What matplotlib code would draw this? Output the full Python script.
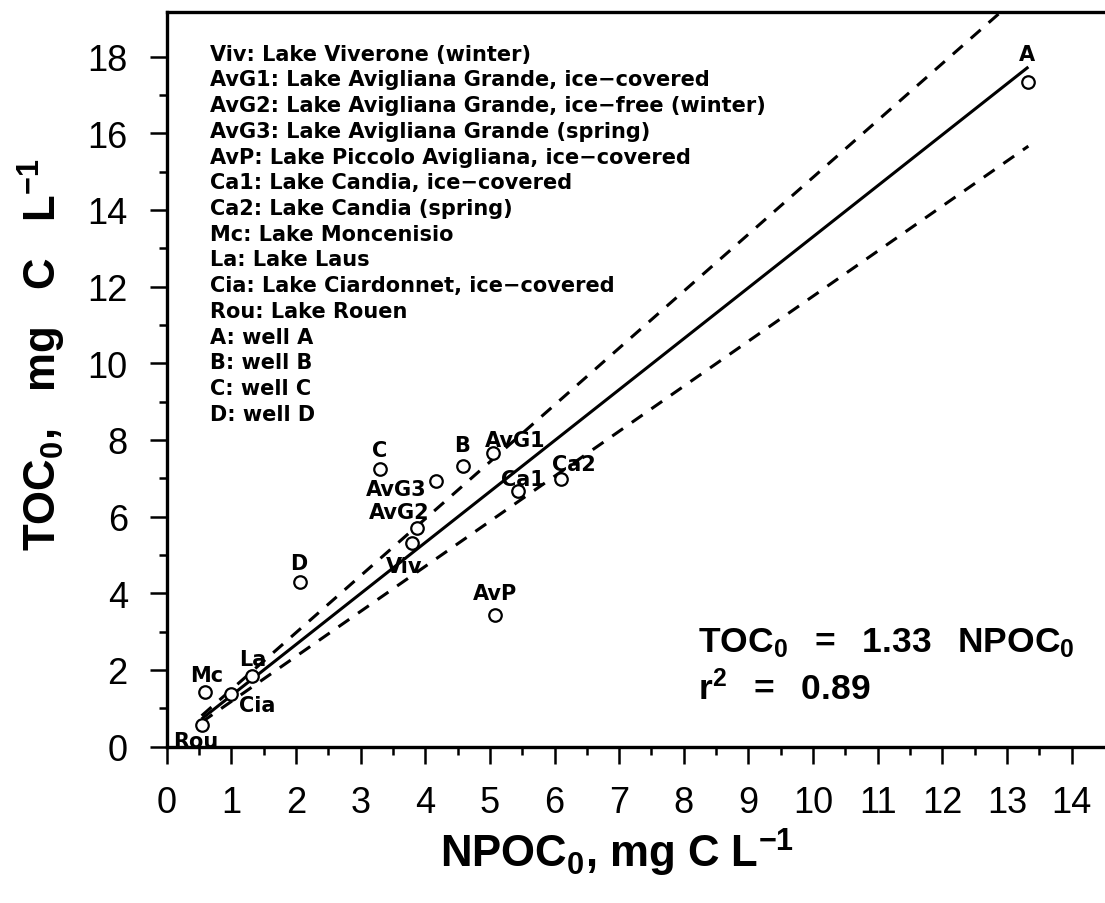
import matplotlib
matplotlib.use("Agg")
import matplotlib.pyplot as plt
import numpy as np

# ---------------- data ----------------
site_codes = ["Viv", "AvG1", "AvG2", "AvG3", "AvP", "Ca1", "Ca2", "Mc",
              "La", "Cia", "Rou", "A", "B", "C", "D"]
npoc = [3.80, 5.05, 3.87, 4.16, 5.08, 5.44, 6.10, 0.60,
        1.32, 0.99, 0.54, 13.33, 4.59, 3.30, 2.06]
toc = [5.31, 7.66, 5.69, 6.92, 3.44, 6.67, 6.98, 1.43,
       1.83, 1.37, 0.57, 17.34, 7.31, 7.24, 4.30]
site_names = [
    "Viv: Lake Viverone (winter)",
    "AvG1: Lake Avigliana Grande, ice\u2212covered",
    "AvG2: Lake Avigliana Grande, ice\u2212free (winter)",
    "AvG3: Lake Avigliana Grande (spring)",
    "AvP: Lake Piccolo Avigliana, ice\u2212covered",
    "Ca1: Lake Candia, ice\u2212covered",
    "Ca2: Lake Candia (spring)",
    "Mc: Lake Moncenisio",
    "La: Lake Laus",
    "Cia: Lake Ciardonnet, ice\u2212covered",
    "Rou: Lake Rouen",
    "A: well A",
    "B: well B",
    "C: well C",
    "D: well D",
]
slope = 1.33
slope_ci = 0.155
r2 = 0.89
xticks = list(range(0, 15))
yticks = list(range(0, 19, 2))

# label offsets (pixels) relative to each point: style only
label_offsets = {
    "Viv": (-8, -23), "AvG1": (22, 13), "AvG2": (-18, 16), "AvG3": (-39, -8),
    "AvP": (0, 22), "Ca1": (5, 12), "Ca2": (13, 15), "Mc": (1, 17),
    "La": (1, 17), "Cia": (26, -11), "Rou": (-6, -16), "A": (-1, 28),
    "B": (-1, 21), "C": (0, 19), "D": (-1, 19),
}

# ---------------- style ----------------
plt.rcParams["font.family"] = ["Liberation Sans", "DejaVu Sans"]
plt.rcParams["mathtext.fontset"] = "custom"
plt.rcParams["mathtext.rm"] = "Liberation Sans"
plt.rcParams["mathtext.bf"] = "Liberation Sans:bold"
plt.rcParams["mathtext.it"] = "Liberation Sans:italic"

W, H = 1105, 904
fig = plt.figure(figsize=(W / 100, H / 100), dpi=100)

x0_px, y0_px = 166.7, 747.5     # data origin in pixels
px_per_x, px_per_y = 64.64, 38.33
xmax, ymax = 14.5, 19.15
ax = fig.add_axes([x0_px / W, (H - y0_px) / H,
                   xmax * px_per_x / W, ymax * px_per_y / H])
ax.set_xlim(0, xmax)
ax.set_ylim(0, ymax)

for s in ["left", "bottom", "top"]:
    ax.spines[s].set_linewidth(2.4)
ax.spines["right"].set_visible(False)

ax.set_xticks(xticks)
ax.set_xticks(np.arange(0.5, 14.5, 1.0), minor=True)
ax.set_yticks(yticks)
ax.set_yticks(np.arange(1, 19, 2), minor=True)
ax.tick_params(which="major", direction="out", length=12, width=1.8,
               labelsize=26, pad=16)
ax.tick_params(which="minor", direction="out", length=6, width=1.8)

# ---------------- lines ----------------
xl = np.array([min(npoc), max(npoc)])
ax.plot(xl, slope * xl, color="black", lw=2.2, solid_capstyle="butt")
for s in (slope + slope_ci, slope - slope_ci):
    ax.plot(xl, s * xl, color="black", lw=2.2,
            linestyle=(0, (4.3, 3.5)), dash_capstyle="butt")

# ---------------- points ----------------
ax.plot(npoc, toc, linestyle="none", marker="o", markersize=9,
        markerfacecolor="white", markeredgecolor="black", mew=1.6, zorder=5)

for code, xv, yv in zip(site_codes, npoc, toc):
    dx, dy = label_offsets[code]
    t = ax.annotate(code, (xv, yv), xytext=(dx, dy),
                    textcoords="offset pixels", ha="center", va="center",
                    fontsize=15, fontweight="bold", family=["DejaVu Sans"],
                    zorder=6)
    t.set_clip_path(ax.patch)

# ---------------- site legend ----------------
y_first, y_step = 53.3, 25.7
for i, name in enumerate(site_names):
    ypix = y_first + i * y_step + 7.5
    fig.text(210 / W, 1 - ypix / H, name, ha="left", va="baseline",
             fontsize=15, fontweight="bold", family=["DejaVu Sans"])

# ---------------- equation ----------------
sp = "  \u2009"
fig.text(698 / W, 1 - 652 / H,
         r"TOC$_\mathbf{0}$" + sp + "=" + sp + "%.2f" % slope + sp +
         r"NPOC$_\mathbf{0}$",
         ha="left", va="baseline", fontsize=25.5, fontweight="bold")
fig.text(698 / W, 1 - 700 / H, r"r$^\mathbf{2}$" + sp + "=" + sp + "%.2f" % r2,
         ha="left", va="baseline", fontsize=25.5, fontweight="bold")

# ---------------- axis labels ----------------
fig.text(617 / W, 1 - 868 / H, r"NPOC$_\mathbf{0}$, mg C L$^\mathbf{-1}$",
         ha="center", va="baseline", fontsize=31.5, fontweight="bold")
fig.text(42 / W, 1 - 355 / H, r"TOC$_\mathbf{0}$,   mg   C   L$^\mathbf{-1}$",
         ha="center", va="center", rotation=90, fontsize=31.5,
         fontweight="bold")

fig.savefig("out.png", dpi=100)
